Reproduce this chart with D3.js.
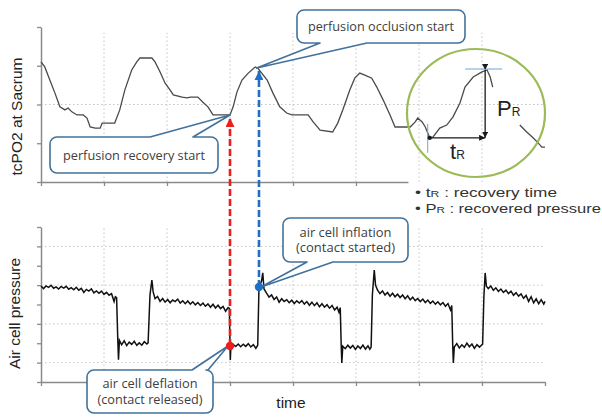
<!DOCTYPE html>
<html><head><meta charset="utf-8">
<script src="https://cdn.jsdelivr.net/npm/d3@7"></script>
<style>body{margin:0;background:#fff}svg{display:block}</style>
</head><body><svg id="c" width="602" height="418"></svg>
<script>
// ---- data ----
// time axis units (0..80), tcPO2 units (0..40), air cell pressure units (0..80)
const timeTicks = [0,10,20,30,40,50,60,70,80];
const topYTicks = [0,10,20,30,40];
const botYTicks = [0,10,20,30,40,50,60,70,80];
const topGridY = [20];
const botGridY = [10,30,50,70];
const gridT = [10,20,30,40,50,60,70];

const tcpo2T = [0,0.6,1.4,2.2,3.0,3.8,4.3,4.9,5.7,6.7,7.3,7.8,8.6,9.4,9.7,11.7,12.5,13.3,14.4,15.2,15.7,17.6,18.1,18.9,19.7,20.5,21.0,22.4,23.2,23.7,24.9,25.7,26.5,27.3,30.0,30.5,31.1,31.9,32.9,34.0,34.4,35.9,36.8,37.9,39.0,39.8,41.1,42.4,43.2,44.3,46.3,47.1,47.9,49.0,49.8,50.6,51.4,52.5,53.3,54.3,55.4,56.2,58.6,59.4,59.8,60.5,61.0,61.7,62.2,63.3,64.4,65.4,66.5,67.3,68.6,70.0,70.8,71.3,71.7,null,76.0,77.1,78.1,78.9,79.5,80];
const tcpo2V = [31.0,29.7,26.3,23.0,19.4,18.6,19.1,18.1,17.3,17.3,16.5,14.2,13.9,13.9,15.2,15.2,18.6,23.7,28.9,31.0,32.0,32.0,31.0,28.4,25.5,23.7,22.5,21.9,21.7,21.9,21.9,20.6,19.4,17.3,17.3,19.4,23.2,26.3,28.1,29.7,29.4,26.3,23.0,19.4,17.8,17.3,17.3,17.3,15.5,13.4,12.9,15.2,18.6,23.7,26.8,28.1,27.6,26.8,24.5,21.2,17.3,14.2,14.2,15.5,16.5,15.5,14.2,11.4,11.6,13.9,14.7,16.8,20.4,24.5,27.1,28.4,28.9,27.1,24.5,null,14.7,12.9,11.4,10.1,9.0,9.0];

const airT = [0,0.4,0.8,1.2,1.6,2.0,2.4,2.8,3.2,3.6,4.0,4.4,4.8,5.2,5.6,6.0,6.4,6.8,7.2,7.6,8.0,8.4,8.8,9.2,9.6,10.0,10.4,10.8,11.2,11.6,11.8,
 12.0,12.2,12.3,12.45,12.8,13.2,13.6,14.0,14.4,14.8,15.2,15.6,16.0,16.4,16.8,
 17.0,17.3,17.6,17.8,18.1,18.5,18.9,19.3,19.7,20.1,20.5,20.9,21.3,21.7,22.1,22.5,22.9,23.3,23.7,24.1,24.5,24.9,25.3,25.7,26.1,26.5,26.9,27.3,27.7,28.1,28.5,28.9,29.3,29.7,
 29.9,30.0,30.05,30.15,30.5,30.9,31.3,31.7,32.1,32.5,32.9,33.3,33.7,34.1,34.4,
 34.6,35.0,35.2,35.4,35.8,36.2,36.6,37.0,37.4,37.8,38.2,38.6,39.0,39.4,39.8,40.2,40.6,41.0,41.4,41.8,42.2,42.6,43.0,43.4,43.8,44.2,44.6,45.0,45.4,45.8,46.2,46.6,47.0,47.3,47.5,
 47.65,47.75,47.9,48.3,48.7,49.1,49.5,49.9,50.3,50.7,51.1,51.5,51.9,52.2,
 52.4,52.6,52.9,53.1,53.4,53.8,54.2,54.6,55.0,55.4,55.8,56.2,56.6,57.0,57.4,57.8,58.2,58.6,59.0,59.4,59.8,60.2,60.6,61.0,61.4,61.8,62.2,62.6,63.0,63.4,63.8,64.2,64.6,65.0,65.2,
 65.35,65.45,65.6,66.0,66.4,66.8,67.2,67.6,68.0,68.4,68.8,69.2,69.6,69.9,
 70.1,70.3,70.5,70.7,71.0,71.4,71.8,72.2,72.6,73.0,73.4,73.8,74.2,74.6,75.0,75.4,75.8,76.2,76.6,77.0,77.4,77.8,78.2,78.6,79.0,79.4,79.8,80.0];
const airV = [49.5,48.2,49.6,48.8,49.9,48.4,49.1,48.0,49.3,48.5,49.4,47.9,48.7,47.6,48.9,47.4,48.3,46.2,47.8,46.9,48.1,46.0,47.0,45.8,46.9,45.2,46.3,44.8,45.6,41.5,44.0,
 43.5,20.5,11.5,21.5,19.2,21.3,18.8,20.6,19.4,21.0,18.9,20.2,19.0,20.8,19.6,
 20.2,45.0,52.6,46.5,43.0,44.2,41.6,43.1,41.2,42.6,40.9,42.3,41.5,42.8,40.7,41.9,40.4,41.8,40.2,41.4,39.8,41.0,39.5,40.7,39.1,40.3,38.6,40.1,38.2,39.6,37.9,39.0,36.5,38.4,
 38.0,18.6,11.4,19.0,19.4,18.3,19.6,18.2,19.5,18.4,19.8,18.1,19.3,17.4,19.0,
 49.0,52.0,56.3,48.0,45.9,43.8,44.9,42.6,43.9,41.2,43.0,41.6,42.5,40.9,42.2,40.5,41.9,40.8,42.0,40.2,41.5,39.6,41.2,39.4,40.9,38.8,40.4,38.6,39.9,38.1,39.5,37.2,38.6,36.0,38.4,
 19.1,9.8,18.5,17.2,19.0,17.5,18.9,16.8,18.6,17.3,19.1,17.0,18.7,16.9,
 18.0,45.0,57.8,50.0,47.5,45.6,47.0,44.9,46.2,44.3,45.8,44.0,45.3,43.6,44.9,43.0,44.5,42.4,43.8,42.0,43.1,41.5,42.8,41.0,42.3,40.6,41.8,40.2,41.4,39.8,41.0,39.1,40.5,37.2,39.5,
 19.1,9.8,18.0,19.8,17.6,19.2,17.9,20.1,18.2,19.6,17.4,19.3,18.0,19.0,
 19.5,44.0,56.3,49.5,48.2,49.6,47.3,48.6,46.8,48.0,46.2,47.4,45.6,46.9,44.8,46.1,44.3,45.5,43.2,44.7,41.6,44.0,40.8,42.9,40.4,42.5,40.2,41.6];

// events: perfusion recovery (air cell deflation) and occlusion (air cell inflation)
const eventNames = ["recovery","occlusion"];
const eventT = [30, 34.6];
const eventTopV = [17.3, 29.4];
const eventBotV = [18.6, 49.0];
const eventColors = ["#ee1d1d","#1f6fc6"];

// inset measurement (t_R, P_R)
const insetStartT = 61.7, insetPeakT = 70.5, insetLowV = 11.4, insetPeakV = 28.9;

// ---- drawing ----
const svg = d3.select("#c");
const x = d3.scaleLinear().domain([0,80]).range([41,545]);
const xTop = x.copy().domain([0,58.25]).range([41, x(58.25)]);
const yTop = d3.scaleLinear().domain([0,40]).range([182,27]);
const yBot = d3.scaleLinear().domain([0,80]).range([382,227]);

const axisColor = "#8a8a8a", gridColor = "#c4c4c4";

const defs = svg.append("defs");
function marker(id, color, size){
  defs.append("marker").attr("id",id).attr("viewBox","0 0 10 10")
    .attr("refX",10).attr("refY",5).attr("markerUnits","userSpaceOnUse")
    .attr("markerWidth",size).attr("markerHeight",size).attr("orient","auto")
    .append("path").attr("d","M0,0L10,5L0,10Z").attr("fill",color);
}
marker("mRed", eventColors[0], 9);
marker("mBlue", eventColors[1], 9);
marker("mBlack", "#1a1a1a", 6);

const grid = svg.append("g").attr("stroke",gridColor).attr("stroke-width",1).attr("stroke-dasharray","1.5,2.5");
grid.selectAll(".tgv").data(gridT).join("line").attr("class","tgv")
  .attr("x1",d=>x(d)).attr("x2",d=>x(d)).attr("y1",yTop(0)).attr("y2",yTop(38.5));
grid.selectAll(".tgh").data(topGridY).join("line").attr("class","tgh")
  .attr("x1",x(0)).attr("x2",x(80)).attr("y1",d=>yTop(d)).attr("y2",d=>yTop(d));
grid.selectAll(".bgv").data(gridT).join("line").attr("class","bgv")
  .attr("x1",d=>x(d)).attr("x2",d=>x(d)).attr("y1",yBot(0)).attr("y2",yBot(80));
grid.selectAll(".bgh").data(botGridY).join("line").attr("class","bgh")
  .attr("x1",x(0)).attr("x2",x(80)).attr("y1",d=>yBot(d)).attr("y2",d=>yBot(d));

function styleAxis(g){
  g.selectAll("path.domain").attr("stroke",axisColor).attr("stroke-width",1.5);
  g.selectAll(".tick line").attr("stroke",axisColor).attr("stroke-width",1.3);
  g.selectAll("text").remove();
}
svg.append("g").attr("transform",`translate(0,${yTop(0)})`)
  .call(d3.axisBottom(xTop).tickValues(timeTicks.filter(d=>d<=50)).tickSize(4).tickSizeOuter(0).tickFormat(""))
  .call(styleAxis);
svg.append("g").attr("transform",`translate(${x(0)},0)`)
  .call(d3.axisLeft(yTop).tickValues(topYTicks).tickSize(4).tickSizeOuter(0).tickFormat(""))
  .call(styleAxis);
svg.append("g").attr("transform",`translate(0,${yBot(0)})`)
  .call(d3.axisBottom(x).tickValues(timeTicks).tickSize(4).tickSizeOuter(0).tickFormat(""))
  .call(styleAxis);
svg.append("g").attr("transform",`translate(${x(0)},0)`)
  .call(d3.axisLeft(yBot).tickValues(botYTicks).tickSize(4).tickSizeOuter(0).tickFormat(""))
  .call(styleAxis);

// curves
const topData = tcpo2T.map((t,i)=>({t, v:tcpo2V[i]}));
const lineTop = d3.line().defined(d=>d.t!==null && d.v!==null).x(d=>x(d.t)).y(d=>yTop(d.v));
svg.append("path").datum(topData).attr("d",lineTop)
  .attr("fill","none").attr("stroke","#4a4a4a").attr("stroke-width",1.3);

const botData = airT.map((t,i)=>({t, v:airV[i]}));
const lineBot = d3.line().x(d=>x(d.t)).y(d=>yBot(d.v));
svg.append("path").datum(botData).attr("d",lineBot)
  .attr("fill","none").attr("stroke","#111").attr("stroke-width",1.5);

// inset
svg.append("ellipse").attr("cx",476).attr("cy",113).attr("rx",69).attr("ry",64)
  .attr("fill","none").attr("stroke","#9bbb59").attr("stroke-width",2.2);
const ins = svg.append("g");
ins.append("line").attr("x1",x(insetStartT)-2).attr("x2",x(insetStartT)-2)
  .attr("y1",yTop(insetLowV)-14).attr("y2",yTop(insetLowV)+15)
  .attr("stroke","#6fa3d8").attr("stroke-width",1);
ins.append("line").attr("x1",x(insetPeakT)-20).attr("x2",x(insetPeakT)+17)
  .attr("y1",yTop(insetPeakV)-1).attr("y2",yTop(insetPeakV)-1)
  .attr("stroke","#6fa3d8").attr("stroke-width",1);
ins.append("line").attr("x1",x(insetStartT)).attr("x2",x(insetPeakT))
  .attr("y1",yTop(insetLowV)).attr("y2",yTop(insetLowV))
  .attr("stroke","#1a1a1a").attr("stroke-width",1.3).attr("marker-end","url(#mBlack)");
ins.append("line").attr("x1",x(insetPeakT)).attr("x2",x(insetPeakT))
  .attr("y1",yTop(insetPeakV)).attr("y2",yTop(insetLowV))
  .attr("stroke","#1a1a1a").attr("stroke-width",1.3).attr("marker-end","url(#mBlack)")
  .attr("marker-start","url(#mBlack)");
ins.append("circle").attr("cx",x(insetStartT)).attr("cy",yTop(insetLowV)).attr("r",2.2).attr("fill","#1a1a1a");
const tR = ins.append("text").attr("x",450).attr("y",159).attr("fill","#222")
  .attr("font-family","'Liberation Sans',Arial,sans-serif").attr("font-size",22);
tR.append("tspan").text("t");
tR.append("tspan").attr("font-size",12).text("R");
const pR = ins.append("text").attr("x",497).attr("y",116).attr("fill","#222")
  .attr("font-family","'Liberation Sans',Arial,sans-serif").attr("font-size",22);
pR.append("tspan").text("P");
pR.append("tspan").attr("font-size",12).text("R");

// event arrows
const ev = eventT.map((t,i)=>({name:eventNames[i], t, top:eventTopV[i], bot:eventBotV[i], color:eventColors[i]}));
svg.selectAll(".evl").data(ev).join("line").attr("class","evl")
  .attr("x1",d=>x(d.t)).attr("x2",d=>x(d.t))
  .attr("y1",d=>yBot(d.bot)).attr("y2",d=>yTop(d.top)+3)
  .attr("stroke",d=>d.color).attr("stroke-width",2.6).attr("stroke-dasharray","7,3")
  .attr("marker-end",(d,i)=>i===0?"url(#mRed)":"url(#mBlue)");

// callouts
const callouts = [
  {lines:["perfusion occlusion start"], bx:297, by:10, w:168, h:33, edge:"bottom", b1:320, b2:367, tip:[x(34.4)-1, yTop(29.4)], tl:[146]},
  {lines:["perfusion recovery start"], bx:50, by:137, w:168, h:36, edge:"top", b1:150, b2:193, tip:[x(30), yTop(17.3)], tl:[142]},
  {lines:["air cell inflation","(contact started)"], bx:283, by:218, w:125, h:44, edge:"bottom", b1:307, b2:333, tip:[x(34.6)+2, yBot(49)], tl:[92,99]},
  {lines:["air cell deflation","(contact released)"], bx:87, by:370, w:126, h:43, edge:"top", b1:192, b2:208, tip:[x(30)-2, yBot(18.6)], tl:[95,105]}
];
function cpath(c){
  const r=7, X=c.bx, Y=c.by, W=c.w, H=c.h, [tx,ty]=c.tip;
  if(c.edge==="bottom"){
    return `M${X+r},${Y}H${X+W-r}A${r},${r} 0 0 1 ${X+W},${Y+r}V${Y+H-r}A${r},${r} 0 0 1 ${X+W-r},${Y+H}H${c.b2}L${tx},${ty}L${c.b1},${Y+H}H${X+r}A${r},${r} 0 0 1 ${X},${Y+H-r}V${Y+r}A${r},${r} 0 0 1 ${X+r},${Y}Z`;
  }
  return `M${X+r},${Y}H${c.b1}L${tx},${ty}L${c.b2},${Y}H${X+W-r}A${r},${r} 0 0 1 ${X+W},${Y+r}V${Y+H-r}A${r},${r} 0 0 1 ${X+W-r},${Y+H}H${X+r}A${r},${r} 0 0 1 ${X},${Y+H-r}V${Y+r}A${r},${r} 0 0 1 ${X+r},${Y}Z`;
}
const cg = svg.selectAll(".co").data(callouts).join("g").attr("class","co");
cg.append("path").attr("d",cpath).attr("fill","#fff").attr("stroke","#41719c").attr("stroke-width",1.6)
  .attr("stroke-linejoin","round");
cg.each(function(c){
  const g = d3.select(this);
  const n = c.lines.length;
  const lh = 15.5;
  c.lines.forEach((ln,i)=>{
    g.append("text").attr("x",c.bx+c.w/2).attr("y",c.by+c.h/2 + (i-(n-1)/2)*lh + 4.5)
      .attr("text-anchor","middle").attr("fill","#404040")
      .attr("font-family","'Open Sans','Noto Sans',sans-serif").attr("font-size",12.5)
      .attr("textLength",c.tl[i]).attr("lengthAdjust","spacingAndGlyphs").text(ln);
  });
});

// event dots
svg.selectAll(".evd").data(ev).join("circle").attr("class","evd")
  .attr("cx",d=>x(d.t)).attr("cy",d=>yBot(d.bot)).attr("r",4.2).attr("fill",d=>d.color);

// axis titles
svg.append("text").attr("transform",`translate(21.5,${(yTop(0)+yTop(40))/2+12}) rotate(-90)`)
  .attr("text-anchor","middle").attr("fill","#222")
  .attr("font-family","'Liberation Sans',Arial,sans-serif").attr("font-size",15.5).text("tcPO2 at Sacrum");
svg.append("text").attr("transform",`translate(20,${(yBot(0)+yBot(80))/2+9}) rotate(-90)`)
  .attr("text-anchor","middle").attr("fill","#222")
  .attr("font-family","'Liberation Sans',Arial,sans-serif").attr("font-size",15.5).text("Air cell pressure");
svg.append("text").attr("x",291).attr("y",408).attr("text-anchor","middle").attr("fill","#222")
  .attr("font-family","'Liberation Sans',Arial,sans-serif").attr("font-size",15.5).text("time");

// legend
const legend = [
  {sym:"t", sub:"R", desc:" : recovery time", w:142},
  {sym:"P", sub:"R", desc:" : recovered pressure", w:186}
];
legend.forEach((l,i)=>{
  const t = svg.append("text").attr("x",415).attr("y",196.5+i*16.5).attr("fill","#333")
    .attr("font-family","'Liberation Sans',Arial,sans-serif").attr("font-size",13.5)
    .attr("textLength",l.w).attr("lengthAdjust","spacingAndGlyphs");
  t.append("tspan").text("\u2022 "+l.sym);
  t.append("tspan").attr("font-size",9.5).text(l.sub);
  t.append("tspan").text(l.desc);
});
</script></body></html>
